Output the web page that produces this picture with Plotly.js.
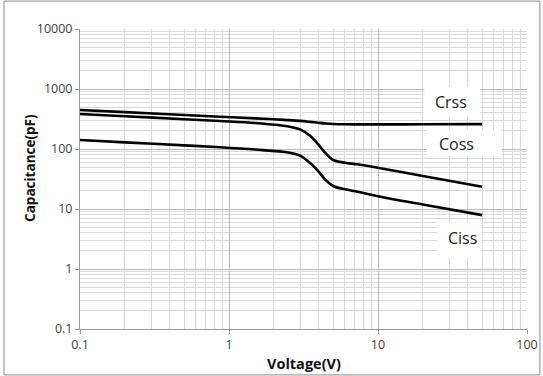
<!DOCTYPE html>
<html>
<head>
<meta charset="utf-8">
<script src="https://cdn.plot.ly/plotly-3.0.1.min.js"></script>
<style>
html,body{margin:0;padding:0;background:#fff;}
#chart{width:543px;height:376px;}
</style>
</head>
<body>
<div id="chart"></div>
<script>
// Data
var voltage = [0.1, 0.2, 0.5, 0.87, 1.5, 2.5, 3.0, 3.5, 4.0, 4.45, 5.0, 6.0, 7.3, 10.4, 20, 50];
var crss = [447, 411, 369, 345, 324, 303, 294, 283, 273, 266, 261, 258, 257, 257, 258, 260];
var coss = [383, 352, 314, 293, 272, 238, 212, 166, 117, 84.7, 65.6, 59, 55.6, 47.7, 35.6, 23.5];
var ciss = [141, 129, 115, 107, 98, 87.5, 77.5, 58.5, 41.9, 30.4, 24.2, 21.3, 19.4, 16, 11.9, 7.9];

var xTickVals = [0.1, 1, 10, 100];
var xTickText = ["0.1", "1", "10", "100"];
var yTickVals = [0.1, 1, 10, 100, 1000, 10000];
var yTickText = ["0.1", "1", "10", "100", "1000", "10000"];

var seriesLabels = ["Crss", "Coss", "Ciss"];
var xTitle = "Voltage(V)";
var yTitle = "Capacitance(pF)";

function curve(name, ys) {
  return {
    x: voltage, y: ys, name: name, type: "scatter", mode: "lines",
    line: {color: "#000", width: 2.6, shape: "spline", smoothing: 0.9},
    hoverinfo: "x+y+name"
  };
}

var traces = [curve(seriesLabels[0], crss), curve(seriesLabels[1], coss), curve(seriesLabels[2], ciss)];

var tickFont = {family: "Open Sans, Liberation Sans, sans-serif", size: 12.5, color: "#404040"};

var axisCommon = {
  type: "log",
  showline: true, linecolor: "#9a9a9a", linewidth: 1,
  showgrid: true, gridcolor: "#b8b8b8", gridwidth: 1,
  ticks: "outside", ticklen: 4, tickcolor: "#9a9a9a",
  tickmode: "array",
  zeroline: false,
  tickfont: tickFont,
  minor: {dtick: "D1", showgrid: true, gridcolor: "#d9d9d9", gridwidth: 1, ticks: ""}
};

var xaxis = Object.assign({}, axisCommon, {
  range: [-1, 2], tickvals: xTickVals, ticktext: xTickText
});
var yaxis = Object.assign({}, axisCommon, {
  range: [-1, 4], tickvals: yTickVals, ticktext: yTickText
});

function box(x0, x1, y0, y1) {
  return {type: "rect", xref: "paper", yref: "paper", x0: x0, x1: x1, y0: y0, y1: y1,
    fillcolor: "#fff", line: {width: 0}, layer: "above"};
}

var labelFont = {family: "Open Sans, Liberation Sans, sans-serif", size: 16, color: "#222"};
var titleFamily = "Open Sans, Liberation Sans, sans-serif";

var layout = {
  width: 543, height: 376,
  margin: {l: 80, r: 16, t: 29, b: 47},
  paper_bgcolor: "#fff", plot_bgcolor: "#fff",
  showlegend: false,
  xaxis: xaxis, yaxis: yaxis,
  shapes: [
    box(0.770, 0.895, 0.707, 0.807),
    box(0.776, 0.944, 0.577, 0.663),
    box(0.799, 0.897, 0.237, 0.357),
    {type: "rect", xref: "paper", yref: "paper", x0: -0.170, x1: 1.029, y0: -0.153, y1: 1.093,
      line: {color: "#8a8a8a", width: 1}, fillcolor: "rgba(0,0,0,0)", layer: "above"}
  ],
  annotations: [
    {text: seriesLabels[0], xref: "paper", yref: "paper", x: 0.831, y: 0.757, showarrow: false, font: labelFont, xanchor: "center", yanchor: "middle"},
    {text: seriesLabels[1], xref: "paper", yref: "paper", x: 0.842, y: 0.618, showarrow: false, font: labelFont, xanchor: "center", yanchor: "middle"},
    {text: seriesLabels[2], xref: "paper", yref: "paper", x: 0.856, y: 0.302, showarrow: false, font: labelFont, xanchor: "center", yanchor: "middle"},
    {text: "<b>" + xTitle + "</b>", xref: "paper", yref: "paper", x: 0.5, y: 0, yshift: -34, showarrow: false,
      font: {family: titleFamily, size: 14.5, color: "#111"}, xanchor: "center", yanchor: "middle"},
    {text: "<b>" + yTitle + "</b>", xref: "paper", yref: "paper", x: 0, y: 0.537, xshift: -50, showarrow: false, textangle: -90,
      font: {family: titleFamily, size: 13.5, color: "#111"}, xanchor: "center", yanchor: "middle"}
  ]
};

Plotly.newPlot("chart", traces, layout, {staticPlot: true, displayModeBar: false});
</script>
</body>
</html>
